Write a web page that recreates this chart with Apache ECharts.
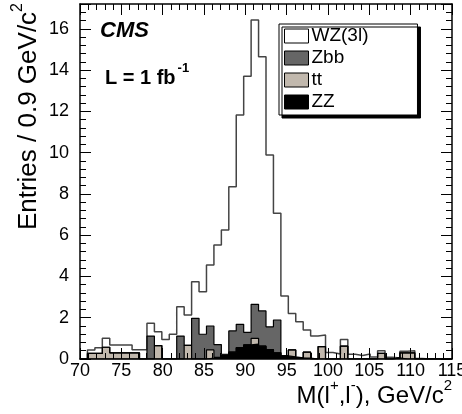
<!DOCTYPE html>
<html>
<head>
<meta charset="utf-8">
<title>M(l+,l-) CMS</title>
<script src="https://cdn.jsdelivr.net/npm/echarts@6/dist/echarts.min.js"></script>
<style>
  html, body { margin: 0; padding: 0; background: #fff; }
  #chart { width: 462px; height: 414px; }
</style>
</head>
<body>
<div id="chart"></div>
<script>
// 50 bins of 0.9 GeV between 70 and 115
const xMin = 70
const xMax = 115
const binWidth = 0.9
const xTicks = [70, 75, 80, 85, 90, 95, 100, 105, 110, 115]
const yTicks = [0, 2, 4, 6, 8, 10, 12, 14, 16]

// entries per bin, each process on its own (stacked below)
const zz = [
  0, 0, 0, 0, 0, 0, 0, 0, 0, 0,
  0, 0, 0, 0, 0, 0, 0, 0.04, 0.08, 0.18,
  0.33, 0.55, 0.68, 0.72, 0.62, 0.45, 0.3, 0.15, 0.1, 0.06,
  0.04, 0, 0, 0, 0, 0, 0, 0, 0, 0,
  0, 0, 0.05, 0, 0, 0, 0, 0, 0, 0
]
const tt = [
  0, 0.27, 0.27, 0.57, 0.3, 0.3, 0.3, 0.3, 0, 0,
  0.65, 0, 0, 0, 0.66, 0, 0, 0.4, 0, 0,
  0, 0, 0, 0.28, 0, 0, 0, 0, 0.34, 0,
  0.29, 0, 0.6, 0, 0, 0.62, 0, 0, 0, 0,
  0.27, 0, 0, 0.3, 0.3, 0, 0, 0, 0, 0
]
const zbb = [
  0, 0, 0, 0, 0, 0, 0, 0, 0, 1.11,
  0, 0, 0, 1.11, 0, 1.97, 1.2, 1.16, 0.62, 0.05,
  1.03, 1.13, 0.61, 1.65, 1.71, 1.11, 1.59, 0, 0, 0,
  0, 0, 0, 0, 0, 0, 0, 0, 0, 0,
  0, 0, 0, 0, 0, 0, 0, 0, 0, 0
]
const wz = [
  0, 0.17, 0.28, 0.43, 0.38, 0.38, 0.38, 0.15, 0.45, 0.62,
  0.67, 0.95, 1.2, 1.42, 1.47, 1.77, 2.06, 2.95, 4.82, 6.02,
  6.98, 10.14, 12.41, 13.77, 12.31, 8.32, 5.17, 2.9, 1.77, 1.75,
  1.07, 1.11, 0.56, 0.32, 0.24, 0.33, 0.23, 0.17, 0.24, 0.1,
  0.13, 0.08, 0, 0.08, 0.1, 0.03, 0, 0, 0, 0
]

const font = "'Liberation Sans', Arial, Helvetica, sans-serif"

// running sums, like a ROOT THStack
function addUp(a, b) {
  return a.map((v, i) => +(v + b[i]).toFixed(3))
}
const cumZZ = zz
const cumTT = addUp(cumZZ, tt)
const cumZbb = addUp(cumTT, zbb)
const cumAll = addUp(cumZbb, wz)

// step points on bin edges
function steps(vals) {
  const pts = [[xMin, 0]]
  vals.forEach((v, i) => pts.push([+(xMin + i * binWidth).toFixed(2), v]))
  pts.push([xMax, vals[vals.length - 1]])
  pts.push([xMax, 0])
  return pts
}

function histSeries(name, vals, fill, stroke, width) {
  return {
    name: name,
    type: "line",
    step: "end",
    symbol: "none",
    data: steps(vals),
    lineStyle: { color: stroke, width: width },
    itemStyle: { color: fill },
    areaStyle: { color: fill, opacity: 1 },
    emphasis: { disabled: true },
  }
}

const tickStyle = { lineStyle: { color: "#000", width: 1 } }

function xAxisDef(pos, labels) {
  return {
    type: "value",
    position: pos,
    min: xMin,
    max: xMax,
    interval: 5,
    z: 5,
    axisLine: { show: true, onZero: false, lineStyle: { color: "#000", width: 1.5 } },
    axisTick: { show: true, inside: true, length: 11, ...tickStyle },
    minorTick: { show: true, splitNumber: 5, length: 6, ...tickStyle },
    axisLabel: {
      show: labels,
      margin: 3,
      color: "#000",
      fontSize: 18,
      fontFamily: font,
      formatter: (v) => (xTicks.includes(v) ? String(v) : ""),
    },
    splitLine: { show: false },
  }
}

function yAxisDef(pos, labels) {
  return {
    type: "value",
    position: pos,
    min: 0,
    max: 17.2,
    interval: 2,
    z: 5,
    axisLine: { show: true, onZero: false, lineStyle: { color: "#000", width: 1.5 } },
    axisTick: { show: true, inside: true, length: 11, ...tickStyle },
    minorTick: { show: true, splitNumber: 5, length: 6, ...tickStyle },
    axisLabel: {
      show: labels,
      margin: 11,
      color: "#000",
      fontSize: 18,
      fontFamily: font,
      showMaxLabel: false,
      formatter: (v) => (yTicks.includes(v) ? String(v) : ""),
    },
    splitLine: { show: false },
  }
}

const chart = echarts.init(document.getElementById("chart"), null, { renderer: "canvas" })

chart.setOption({
  animation: false,
  backgroundColor: "#fff",
  grid: { left: 80, right: 10, top: 4, bottom: 55, outerBoundsMode: "none" },
  xAxis: [xAxisDef("bottom", true), xAxisDef("top", false)],
  yAxis: [yAxisDef("left", true), yAxisDef("right", false)],
  legend: {
    orient: "vertical",
    left: 279,
    top: 24,
    icon: "rect",
    itemWidth: 24,
    itemHeight: 14,
    itemGap: 2,
    padding: [2, 49, 3, 5],
    backgroundColor: "#fff",
    borderColor: "#000",
    borderWidth: 1,
    shadowColor: "#000",
    shadowBlur: 0,
    shadowOffsetX: 3,
    shadowOffsetY: 3,
    selectedMode: false,
    textStyle: { fontSize: 19, lineHeight: 20, color: "#000", fontFamily: font, padding: [0, 0, 0, -2] },
    data: [
      { name: "WZ(3l)", itemStyle: { color: "#fff", borderColor: "#000", borderWidth: 1 } },
      { name: "Zbb", itemStyle: { color: "#666", borderColor: "#000", borderWidth: 1 } },
      { name: "tt", itemStyle: { color: "#c1b8ad", borderColor: "#000", borderWidth: 1 } },
      { name: "ZZ", itemStyle: { color: "#000", borderColor: "#000", borderWidth: 1 } },
    ],
  },
  series: [
    histSeries("WZ(3l)", cumAll, "#fff", "#444", 1.5),
    histSeries("Zbb", cumZbb, "#666", "#000", 1.2),
    histSeries("tt", cumTT, "#c1b8ad", "#000", 1.2),
    histSeries("ZZ", cumZZ, "#000", "#000", 1.2),
  ],
  graphic: [
    {
      type: "text",
      x: 100,
      y: 31,
      style: {
        text: "CMS",
        font: "italic bold 22px " + font,
        fill: "#000",
        align: "left",
        verticalAlign: "middle",
      },
    },
    {
      type: "text",
      x: 105,
      y: 75,
      style: {
        text: "{b|L = 1 fb}{s|-1}",
        fill: "#000",
        align: "left",
        verticalAlign: "middle",
        rich: {
          b: { fontSize: 20, fontWeight: "bold", fontFamily: font, lineHeight: 26, verticalAlign: "bottom" },
          s: { fontSize: 13, fontWeight: "bold", fontFamily: font, verticalAlign: "top", padding: [0, 0, 0, 2] },
        },
      },
    },
    {
      type: "text",
      x: 452,
      y: 393,
      style: {
        text: "{n|M(l}{s|+}{n|,l}{s|-}{n|), GeV/c}{s|2}",
        fill: "#000",
        align: "right",
        verticalAlign: "middle",
        rich: {
          n: { fontSize: 24, fontFamily: font, lineHeight: 30, verticalAlign: "bottom" },
          s: { fontSize: 15, fontFamily: font, verticalAlign: "top" },
        },
      },
    },
    {
      type: "text",
      x: 26,
      y: 3,
      rotation: Math.PI / 2,
      style: {
        text: "{n|Entries / 0.9 GeV/c}{s|2}",
        fill: "#000",
        align: "right",
        verticalAlign: "middle",
        rich: {
          n: { fontSize: 26, fontFamily: font, lineHeight: 32, verticalAlign: "bottom" },
          s: { fontSize: 16, fontFamily: font, verticalAlign: "top" },
        },
      },
    },
  ],
})
</script>
</body>
</html>
